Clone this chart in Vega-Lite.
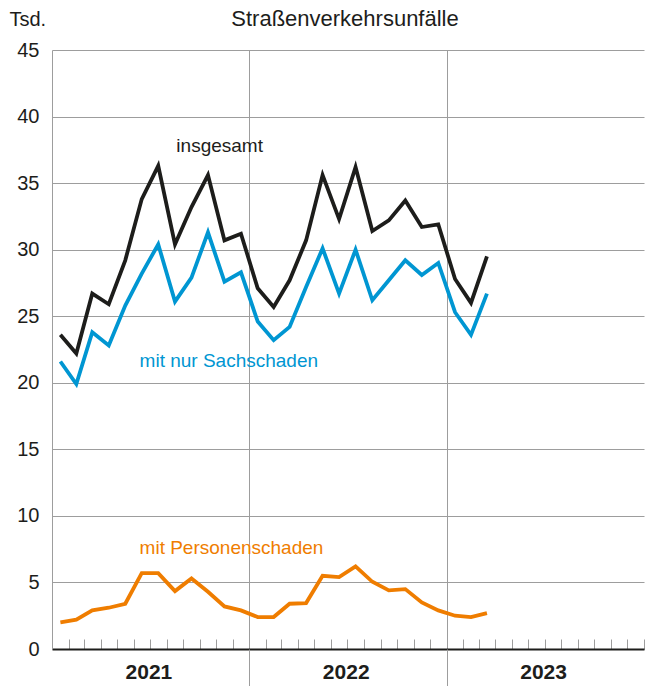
{
  "$schema": "https://vega.github.io/schema/vega-lite/v6.json",
  "width": 592,
  "height": 599,
  "autosize": {"type": "none"},
  "padding": {"left": 52, "top": 50, "right": 1, "bottom": 37},
  "background": "white",
  "title": {"text": "Straßenverkehrsunfälle", "anchor": "middle", "frame": "group", "baseline": "alphabetic", "offset": -39, "fontSize": 22, "fontWeight": "normal", "color": "#1d1d1b", "font": "Liberation Sans", "dx": -3},
  "config": {"view": {"stroke": null}, "font": "Liberation Sans"},
  "data": {"values": [
    {"monat": "2021-01-01", "insgesamt": 23.6, "mit nur Sachschaden": 21.6, "mit Personenschaden": 2.0},
    {"monat": "2021-02-01", "insgesamt": 22.2, "mit nur Sachschaden": 19.9, "mit Personenschaden": 2.2},
    {"monat": "2021-03-01", "insgesamt": 26.7, "mit nur Sachschaden": 23.8, "mit Personenschaden": 2.9},
    {"monat": "2021-04-01", "insgesamt": 25.9, "mit nur Sachschaden": 22.8, "mit Personenschaden": 3.1},
    {"monat": "2021-05-01", "insgesamt": 29.2, "mit nur Sachschaden": 25.8, "mit Personenschaden": 3.4},
    {"monat": "2021-06-01", "insgesamt": 33.8, "mit nur Sachschaden": 28.2, "mit Personenschaden": 5.7},
    {"monat": "2021-07-01", "insgesamt": 36.3, "mit nur Sachschaden": 30.4, "mit Personenschaden": 5.7},
    {"monat": "2021-08-01", "insgesamt": 30.4, "mit nur Sachschaden": 26.1, "mit Personenschaden": 4.35},
    {"monat": "2021-09-01", "insgesamt": 33.2, "mit nur Sachschaden": 27.9, "mit Personenschaden": 5.3},
    {"monat": "2021-10-01", "insgesamt": 35.6, "mit nur Sachschaden": 31.3, "mit Personenschaden": 4.3},
    {"monat": "2021-11-01", "insgesamt": 30.7, "mit nur Sachschaden": 27.6, "mit Personenschaden": 3.2},
    {"monat": "2021-12-01", "insgesamt": 31.2, "mit nur Sachschaden": 28.3, "mit Personenschaden": 2.9},
    {"monat": "2022-01-01", "insgesamt": 27.1, "mit nur Sachschaden": 24.6, "mit Personenschaden": 2.4},
    {"monat": "2022-02-01", "insgesamt": 25.7, "mit nur Sachschaden": 23.2, "mit Personenschaden": 2.4},
    {"monat": "2022-03-01", "insgesamt": 27.7, "mit nur Sachschaden": 24.2, "mit Personenschaden": 3.4},
    {"monat": "2022-04-01", "insgesamt": 30.7, "mit nur Sachschaden": 27.2, "mit Personenschaden": 3.45},
    {"monat": "2022-05-01", "insgesamt": 35.6, "mit nur Sachschaden": 30.1, "mit Personenschaden": 5.5},
    {"monat": "2022-06-01", "insgesamt": 32.3, "mit nur Sachschaden": 26.7, "mit Personenschaden": 5.4},
    {"monat": "2022-07-01", "insgesamt": 36.2, "mit nur Sachschaden": 30.0, "mit Personenschaden": 6.2},
    {"monat": "2022-08-01", "insgesamt": 31.4, "mit nur Sachschaden": 26.2, "mit Personenschaden": 5.05},
    {"monat": "2022-09-01", "insgesamt": 32.2, "mit nur Sachschaden": 27.7, "mit Personenschaden": 4.4},
    {"monat": "2022-10-01", "insgesamt": 33.7, "mit nur Sachschaden": 29.2, "mit Personenschaden": 4.5},
    {"monat": "2022-11-01", "insgesamt": 31.7, "mit nur Sachschaden": 28.1, "mit Personenschaden": 3.5},
    {"monat": "2022-12-01", "insgesamt": 31.9, "mit nur Sachschaden": 29.0, "mit Personenschaden": 2.9},
    {"monat": "2023-01-01", "insgesamt": 27.8, "mit nur Sachschaden": 25.3, "mit Personenschaden": 2.5},
    {"monat": "2023-02-01", "insgesamt": 26.0, "mit nur Sachschaden": 23.6, "mit Personenschaden": 2.4},
    {"monat": "2023-03-01", "insgesamt": 29.5, "mit nur Sachschaden": 26.7, "mit Personenschaden": 2.7}
  ]},
  "transform": [{"fold": ["insgesamt", "mit nur Sachschaden", "mit Personenschaden"], "as": ["serie", "wert"]}],
  "layer": [
    {
      "mark": {"type": "line", "strokeWidth": 3.8, "strokeJoin": "miter", "strokeCap": "butt"},
      "encoding": {
        "x": {"field": "monat", "type": "temporal", "timeUnit": "utcyearmonth", "bandPosition": 0.5,
          "scale": {"type": "utc", "domain": [{"year": 2021, "month": 1, "date": 1, "utc": true}, {"year": 2024, "month": 1, "date": 1, "utc": true}]},
          "axis": {"orient": "bottom", "title": null, "labels": false, "grid": false, "ticks": true, "tickSize": -10, "tickColor": "#9d9d9d", "tickWidth": 1, "domain": true, "domainColor": "#1d1d1b", "domainWidth": 2, "tickCount": {"interval": "month", "step": 1}}},
        "y": {"field": "wert", "type": "quantitative", "scale": {"domain": [0, 45], "nice": false},
          "axis": {"values": [0, 5, 10, 15, 20, 25, 30, 35, 40, 45], "grid": true, "gridColor": "#9d9d9d", "gridWidth": 1, "domain": true, "domainColor": "#9d9d9d", "domainWidth": 1, "ticks": false, "tickSize": 0, "labelFontSize": 20, "labelColor": "#1d1d1b", "labelPadding": 13, "title": "Tsd.", "titleAngle": 0, "titleX": -43, "titleY": -25, "titleAlign": "left", "titleBaseline": "alphabetic", "titleFontSize": 20, "titleFontWeight": "normal", "titleColor": "#1d1d1b"}},
        "color": {"field": "serie", "type": "nominal", "legend": null,
          "scale": {"domain": ["insgesamt", "mit nur Sachschaden", "mit Personenschaden"], "range": ["#1d1d1b", "#0096d2", "#ef7d00"]}}
      }
    },
    {
      "data": {"values": [{}]},
      "mark": {"type": "text", "text": "insgesamt", "fontSize": 19, "align": "left", "baseline": "alphabetic", "color": "#1d1d1b"},
      "encoding": {
        "x": {"datum": {"year": 2021, "month": 8, "date": 19, "utc": true}, "type": "temporal",
          "axis": {"orient": "bottom", "title": null, "labels": false, "domain": false, "grid": true, "gridColor": "#9d9d9d", "gridWidth": 1, "ticks": true, "tickSize": 37, "tickColor": "#9d9d9d", "tickWidth": 1,
            "values": [{"year": 2022, "month": 1, "date": 1, "utc": true}, {"year": 2023, "month": 1, "date": 1, "utc": true}]}},
        "y": {"datum": 37.36, "type": "quantitative"}
      }
    },
    {
      "data": {"values": [{}]},
      "mark": {"type": "text", "text": "mit nur Sachschaden", "fontSize": 19, "align": "left", "baseline": "alphabetic", "color": "#0096d2"},
      "encoding": {
        "x": {"datum": {"year": 2021, "month": 6, "date": 12, "utc": true}, "type": "temporal",
          "axis": {"orient": "bottom", "title": null, "domain": false, "grid": false, "ticks": false, "tickSize": 0, "labels": true, "labelExpr": "utcFormat(datum.value, '%Y')", "labelFontSize": 21, "labelFontWeight": "bold", "labelColor": "#1d1d1b", "labelBaseline": "alphabetic", "labelPadding": 29, "labelOffset": -2, "labelFlush": false, "labelOverlap": false,
            "values": [{"year": 2021, "month": 7, "date": 2, "utc": true}, {"year": 2022, "month": 7, "date": 2, "utc": true}, {"year": 2023, "month": 7, "date": 2, "utc": true}]}},
        "y": {"datum": 21.21, "type": "quantitative"}
      }
    },
    {
      "data": {"values": [{}]},
      "mark": {"type": "text", "text": "mit Personenschaden", "fontSize": 19, "align": "left", "baseline": "alphabetic", "color": "#ef7d00"},
      "encoding": {
        "x": {"datum": {"year": 2021, "month": 6, "date": 12, "utc": true}, "type": "temporal", "axis": null},
        "y": {"datum": 7.14, "type": "quantitative"}
      }
    }
  ],
  "resolve": {"axis": {"x": "independent"}}
}
